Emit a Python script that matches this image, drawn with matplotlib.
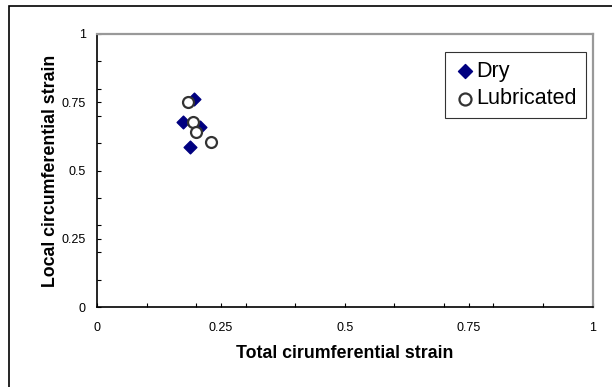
import matplotlib.pyplot as plt
from matplotlib.patches import Rectangle
from matplotlib.ticker import MultipleLocator

plt.rcParams['font.family'] = ['Liberation Sans', 'DejaVu Sans']

dry_x = [0.196, 0.173, 0.208, 0.188]
dry_y = [0.762, 0.678, 0.660, 0.587]
lub_x = [0.183, 0.194, 0.200, 0.231]
lub_y = [0.752, 0.679, 0.640, 0.605]

ticks = [0, 0.25, 0.5, 0.75, 1]
tick_labels = ["0", "0.25", "0.5", "0.75", "1"]

fig = plt.figure(figsize=(6.12, 3.87), dpi=100)
ax = fig.add_axes([97 / 612, 80 / 387, 495.5 / 612, 273 / 387])

# outer chart frame (runs off the right/bottom edge)
fig.patches.append(Rectangle((8.5 / 612, -0.1), 1.0, (387 - 6) / 387 + 0.1,
                             transform=fig.transFigure, fill=False,
                             edgecolor="black", linewidth=1.2))

ax.scatter(dry_x, dry_y, marker="D", s=42, color="#000080", zorder=3, label="Dry")
ax.scatter(lub_x, lub_y, marker="o", s=62, facecolor="white", edgecolor="#333333",
           linewidth=1.6, zorder=4, label="Lubricated")

ax.set_xlim(0, 1)
ax.set_ylim(0, 1)
ax.set_xticks(ticks)
ax.set_xticklabels(tick_labels)
ax.set_yticks(ticks)
ax.set_yticklabels(tick_labels)
ax.xaxis.set_minor_locator(MultipleLocator(0.1))
ax.yaxis.set_minor_locator(MultipleLocator(0.1))
ax.tick_params(which="both", direction="in", length=3, width=0.8, labelsize=9)
ax.tick_params(axis="x", pad=11)
ax.tick_params(axis="y", pad=8)

for side in ["left", "bottom"]:
    ax.spines[side].set_color("black")
    ax.spines[side].set_linewidth(1.2)
for side in ["top", "right"]:
    ax.spines[side].set_color("#999999")
    ax.spines[side].set_linewidth(1.6)

ax.set_xlabel("Total cirumferential strain", fontsize=12.8, fontweight="bold", labelpad=8)
ax.set_ylabel("Local circumferential strain", fontsize=12.8, fontweight="bold", labelpad=2)

leg = ax.legend(loc="upper right", bbox_to_anchor=(585.7 / 612, (387 - 52.3) / 387),
                bbox_transform=fig.transFigure, borderaxespad=0, fontsize=15.5,
                frameon=True, fancybox=False, edgecolor="black", handletextpad=0.05,
                handlelength=1.0, borderpad=0.4, labelspacing=0.3, markerscale=1.1)
leg.get_frame().set_linewidth(0.8)

fig.savefig("out.png", dpi=100)
